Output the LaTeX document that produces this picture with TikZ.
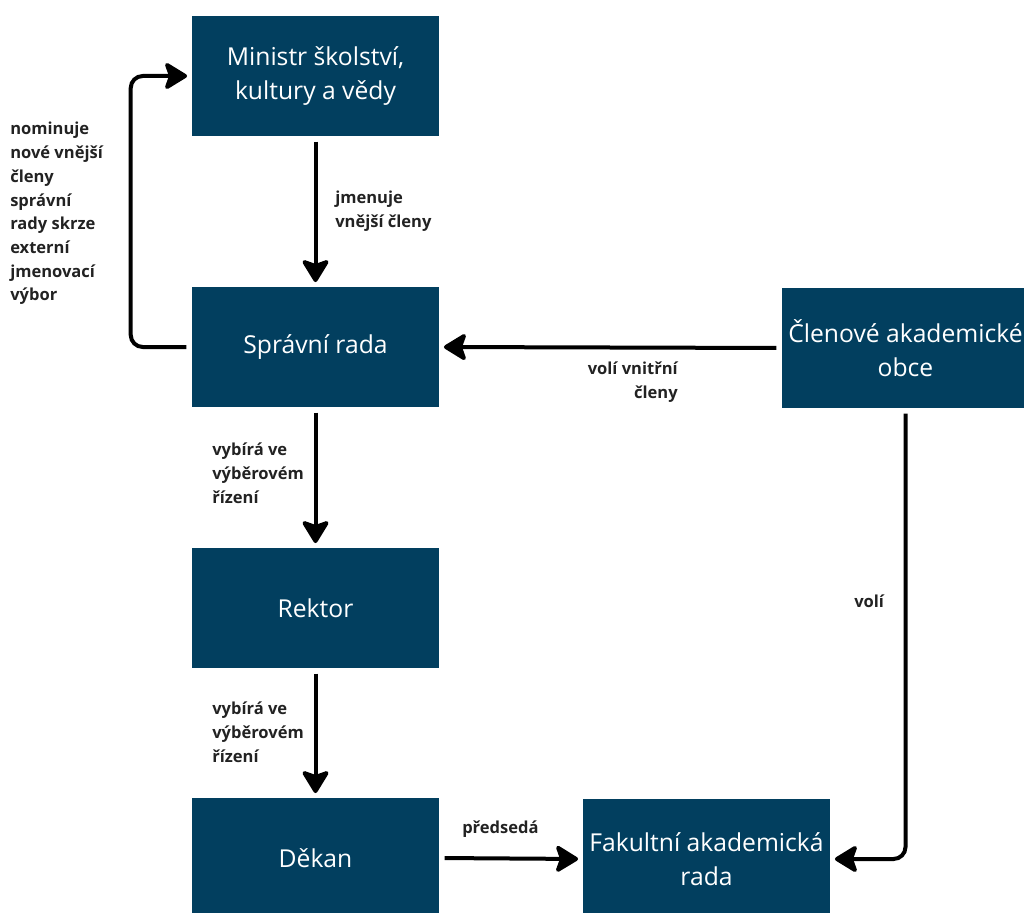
\documentclass[tikz,border=0pt]{standalone}
\usepackage{fontspec}
\setmainfont{Open Sans}
\usetikzlibrary{arrows.meta}
\definecolor{boxblue}{HTML}{023F5F}
\definecolor{labelgray}{HTML}{222222}
\tikzset{
  unit/.style={x=0.75pt,y=-0.75pt},
  orgbox/.style={rectangle, fill=boxblue, text=white, minimum width=185.25pt,
    minimum height=90pt, align=center, inner sep=0pt,
    font=\fontsize{18.5}{25}\selectfont},
  note/.style={inner sep=0pt, text=labelgray,
    font=\bfseries\fontsize{12.4}{17.8}\selectfont},
  conn/.style={line width=3pt, black,
    -{Stealth[length=19pt,width=23pt,inset=4pt,round]},
    shorten <=4pt, shorten >=3.5pt},
}
\begin{document}
\begin{tikzpicture}[unit]
\useasboundingbox (0,0) rectangle (1024,913);
\begin{scope}
\clip (0,0) rectangle (1024,913);
% boxes
\node[orgbox] (min) at (315.5,76)  {Ministr školství,\\kultury a vědy};
\node[orgbox] (sr)  at (315.5,347) {Správní rada};
\node[orgbox] (rek) at (315.5,608) {Rektor};
\node[orgbox] (dek) at (315.5,858) {Děkan};
\node[orgbox] (clo) at (905.5,348) {Členové akademické\\obce};
\node[orgbox] (far) at (706.5,859) {Fakultní akademická\\rada};
\end{scope}
% connectors
\draw[conn] (min.south) -- (sr.north);
\draw[conn, rounded corners=9pt] (sr.west) -- ++(-61,0) |- (min.west);
\draw[conn] (clo.west) -- (sr.east);
\draw[conn] (sr.south) -- (rek.north);
\draw[conn] (rek.south) -- (dek.north);
\draw[conn] (dek.east) -- (far.west);
\draw[conn, rounded corners=9pt] (clo.south) |- (far.east);
% labels
\node[note, anchor=north west, align=left] (l1) at (335,191) {jmenuje\\vnější členy};
\node[note, anchor=north west, align=left] (l2) at (10,122) {nominuje\\nové vnější\\členy\\správní\\rady skrze\\externí\\jmenovací\\výbor};
\node[note, anchor=north east, align=right] (l3) at (678,362) {volí vnitřní\\členy};
\node[note, anchor=north west, align=left] (l4) at (212,443) {vybírá ve\\výběrovém\\řízení};
\node[note, anchor=north west, align=left] (l5) at (212,702) {vybírá ve\\výběrovém\\řízení};
\node[note, anchor=north west] (l6) at (462,821) {předsedá};
\node[note, anchor=north west] (l7) at (854,595) {volí};
\end{tikzpicture}
\end{document}
